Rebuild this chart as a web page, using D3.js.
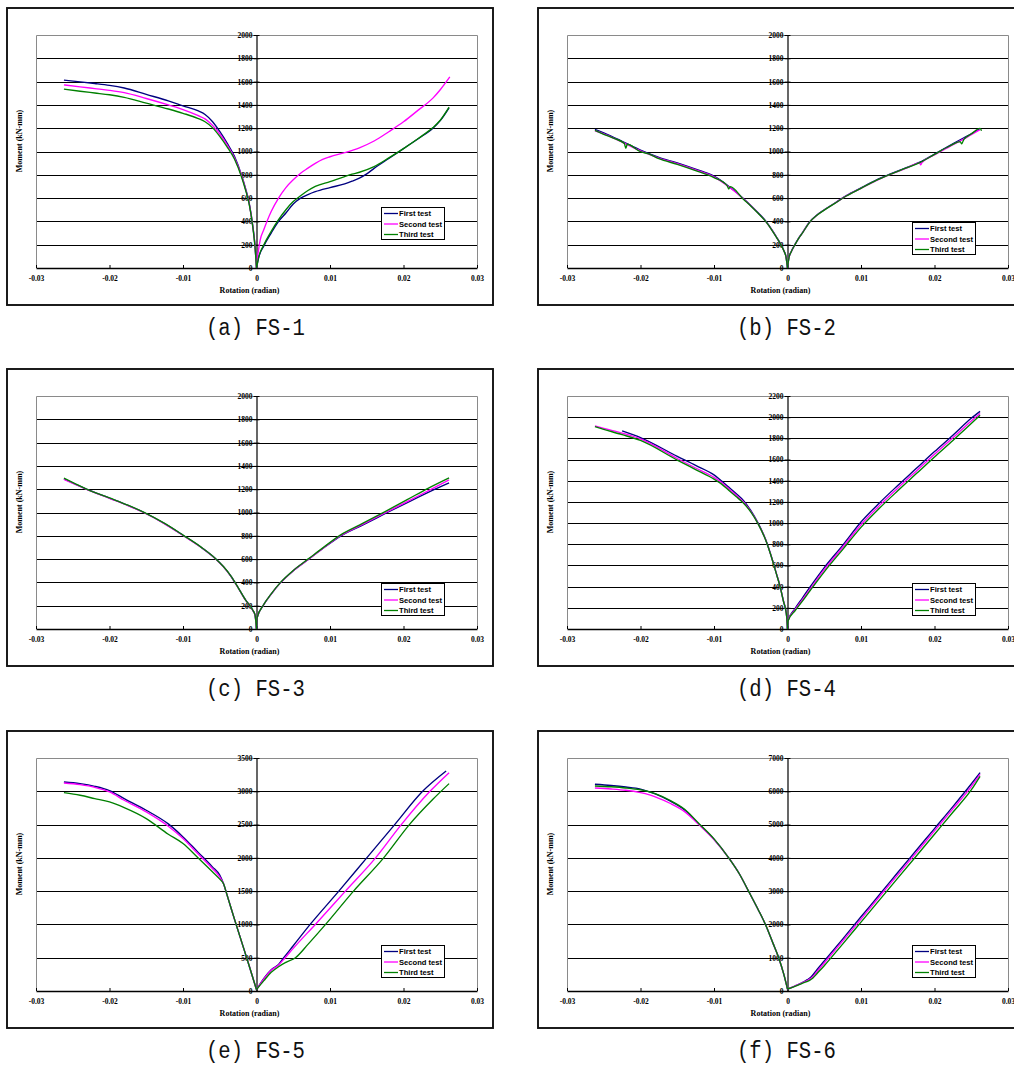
<!DOCTYPE html>
<html>
<head>
<meta charset="utf-8">
<script src="https://cdn.jsdelivr.net/npm/d3@7"></script>
<style>
  html, body { margin: 0; padding: 0; background: #fff; }
  svg { display: block; }
  .tick text { font-family: "Liberation Serif", "Times New Roman", serif; font-weight: bold; font-size: 7.5px; fill: #000; }
</style>
</head>
<body>
<svg id="chart" width="1014" height="1073"></svg>
<script>
// Moment–rotation curves of six connection specimens, three tests each.
// Values are [rotation (radian), moment (kN-mm)].

const seriesNames = ["First test", "Second test", "Third test"];
const seriesColors = ["#000080", "#ff00ff", "#008000"];

const xTickValues = [-0.03, -0.02, -0.01, 0, 0.01, 0.02, 0.03];
const xTickLabels = ["-0.03", "-0.02", "-0.01", "0", "0.01", "0.02", "0.03"];

const yTicks2000 = [0, 200, 400, 600, 800, 1000, 1200, 1400, 1600, 1800, 2000];
const yTicks2200 = [0, 200, 400, 600, 800, 1000, 1200, 1400, 1600, 1800, 2000, 2200];
const yTicks3500 = [0, 500, 1000, 1500, 2000, 2500, 3000, 3500];
const yTicks7000 = [0, 1000, 2000, 3000, 4000, 5000, 6000, 7000];

const captions = ["(a) FS-1", "(b) FS-2", "(c) FS-3", "(d) FS-4", "(e) FS-5", "(f) FS-6"];

// FS-1
const fs1First = [[-0.0262,1612],[-0.024,1598],[-0.022,1584],[-0.02,1568],[-0.018,1545],[-0.015,1490],[-0.012,1435],[-0.01,1392],[-0.008,1350],[-0.007,1318],[-0.006,1258],[-0.005,1172],[-0.004,1072],[-0.003,958],[-0.002,790],[-0.0015,685],[-0.001,560],[-0.0005,360],[-0.0002,190],[0,0],[0.0003,90],[0.001,190],[0.002,300],[0.003,400],[0.004,472],[0.005,550],[0.006,600],[0.007,630],[0.008,655],[0.01,690],[0.012,722],[0.013,745],[0.014,772],[0.015,808],[0.016,855],[0.018,940],[0.02,1025],[0.022,1110],[0.024,1200],[0.025,1265],[0.0262,1375]];
const fs1Second = [[-0.0262,1572],[-0.024,1555],[-0.022,1540],[-0.02,1525],[-0.018,1505],[-0.015,1455],[-0.012,1400],[-0.01,1360],[-0.008,1310],[-0.007,1280],[-0.006,1225],[-0.005,1150],[-0.004,1058],[-0.003,945],[-0.002,785],[-0.0015,680],[-0.001,555],[-0.0005,355],[-0.0002,185],[0,0],[0.0002,120],[0.0005,240],[0.001,330],[0.002,485],[0.003,600],[0.004,690],[0.005,757],[0.006,814],[0.007,857],[0.008,898],[0.009,932],[0.01,955],[0.012,990],[0.014,1032],[0.016,1090],[0.018,1170],[0.02,1255],[0.022,1355],[0.024,1458],[0.025,1530],[0.0263,1640]];
const fs1Third = [[-0.0262,1535],[-0.024,1517],[-0.022,1502],[-0.02,1487],[-0.018,1465],[-0.015,1415],[-0.012,1365],[-0.01,1328],[-0.008,1285],[-0.007,1255],[-0.006,1205],[-0.005,1130],[-0.004,1040],[-0.003,935],[-0.002,775],[-0.0015,672],[-0.001,550],[-0.0005,350],[-0.0002,180],[0,0],[0.0003,95],[0.001,200],[0.002,315],[0.003,415],[0.004,500],[0.005,570],[0.006,620],[0.007,665],[0.008,700],[0.01,742],[0.012,785],[0.013,805],[0.014,822],[0.016,870],[0.018,945],[0.02,1025],[0.022,1112],[0.024,1205],[0.025,1268],[0.0262,1380]];

// FS-2
const fs2First = [[-0.0262,1190],[-0.025,1160],[-0.0225,1088],[-0.02,1012],[-0.0175,950],[-0.015,902],[-0.0125,848],[-0.01,788],[-0.008,702],[-0.006,597],[-0.005,537],[-0.004,474],[-0.003,406],[-0.002,316],[-0.0015,266],[-0.001,213],[-0.0005,150],[-0.0002,95],[0,0],[0.0002,90],[0.0005,140],[0.001,200],[0.0015,255],[0.002,300],[0.003,395],[0.004,455],[0.005,500],[0.0065,560],[0.008,622],[0.01,688],[0.012,752],[0.014,807],[0.016,857],[0.018,908],[0.02,978],[0.022,1048],[0.024,1118],[0.025,1152],[0.0262,1195]];
const fs2Second = [[-0.0262,1178],[-0.025,1152],[-0.0225,1080],[-0.02,1005],[-0.0175,944],[-0.015,896],[-0.0125,842],[-0.01,782],[-0.008,697],[-0.006,594],[-0.005,534],[-0.004,471],[-0.003,403],[-0.002,314],[-0.0015,264],[-0.001,212],[-0.0005,149],[-0.0002,94],[0,0],[0.0002,88],[0.0005,138],[0.001,198],[0.0015,253],[0.002,298],[0.003,393],[0.004,453],[0.005,498],[0.0065,558],[0.008,619],[0.01,684],[0.012,748],[0.014,803],[0.016,852],[0.018,902],[0.0181,885],[0.0183,905],[0.02,970],[0.022,1040],[0.024,1108],[0.025,1145],[0.0262,1188]];
const fs2Third = [[-0.0262,1182],[-0.025,1148],[-0.0235,1110],[-0.0222,1068],[-0.022,1028],[-0.0218,1062],[-0.02,998],[-0.019,982],[-0.0175,938],[-0.015,890],[-0.0125,836],[-0.01,776],[-0.0082,705],[-0.008,678],[-0.0078,698],[-0.006,590],[-0.005,532],[-0.004,470],[-0.003,402],[-0.002,313],[-0.0015,263],[-0.001,211],[-0.0005,148],[-0.0002,93],[0,0],[0.0002,88],[0.0005,138],[0.001,198],[0.0015,252],[0.002,297],[0.003,392],[0.004,452],[0.005,497],[0.0065,557],[0.008,618],[0.01,684],[0.012,750],[0.014,805],[0.016,855],[0.018,905],[0.02,975],[0.022,1045],[0.0235,1085],[0.0237,1066],[0.024,1105],[0.025,1150],[0.0262,1198],[0.0264,1178]];

// FS-3
const fs3First = [[-0.0262,1288],[-0.0245,1240],[-0.0232,1202],[-0.02,1124],[-0.0175,1062],[-0.0153,1000],[-0.0125,905],[-0.01,805],[-0.0075,700],[-0.0056,605],[-0.0045,535],[-0.0035,455],[-0.0025,355],[-0.0015,250],[-0.0009,200],[-0.0005,160],[-0.0002,120],[0,0],[0.0001,100],[0.0009,200],[0.002,300],[0.0033,400],[0.005,500],[0.0071,600],[0.0092,700],[0.0115,800],[0.0147,900],[0.0178,1000],[0.021,1100],[0.0243,1200],[0.0262,1255]];
const fs3Second = [[-0.0262,1285],[-0.0245,1238],[-0.0232,1200],[-0.02,1122],[-0.0175,1060],[-0.0153,998],[-0.0125,903],[-0.01,803],[-0.0075,699],[-0.0056,604],[-0.0045,534],[-0.0035,454],[-0.0025,354],[-0.0015,249],[-0.0009,199],[-0.0005,159],[-0.0002,119],[0,0],[0.0001,100],[0.0009,200],[0.002,300],[0.0033,400],[0.005,500],[0.0071,600],[0.0092,700],[0.0114,800],[0.0145,900],[0.0176,1000],[0.0207,1100],[0.0238,1200],[0.0262,1280]];
const fs3Third = [[-0.0262,1295],[-0.0245,1242],[-0.0232,1203],[-0.02,1125],[-0.0175,1063],[-0.0153,1001],[-0.0125,906],[-0.01,806],[-0.0075,701],[-0.0056,606],[-0.0045,536],[-0.0035,456],[-0.0025,356],[-0.0015,251],[-0.0009,201],[-0.0005,161],[-0.0002,121],[0,0],[0.0001,100],[0.0009,202],[0.002,302],[0.0033,402],[0.005,503],[0.0071,604],[0.0092,705],[0.0114,806],[0.0145,908],[0.0175,1008],[0.0205,1110],[0.0234,1210],[0.0262,1298]];

// FS-4
const fs4First = [[-0.0225,1871],[-0.02,1808],[-0.015,1630],[-0.0125,1545],[-0.01,1455],[-0.009,1400],[-0.008,1340],[-0.007,1280],[-0.006,1215],[-0.005,1120],[-0.004,1000],[-0.003,850],[-0.002,640],[-0.0015,520],[-0.001,400],[-0.0005,250],[-0.0003,200],[-0.0001,110],[0,0],[0.0001,85],[0.001,190],[0.002,290],[0.003,390],[0.005,580],[0.0075,790],[0.01,1010],[0.0125,1190],[0.015,1355],[0.0175,1515],[0.02,1675],[0.0225,1830],[0.025,1990],[0.0262,2055]];
const fs4Second = [[-0.0262,1918],[-0.025,1895],[-0.0225,1850],[-0.02,1795],[-0.015,1610],[-0.0125,1520],[-0.01,1432],[-0.009,1385],[-0.008,1325],[-0.007,1265],[-0.006,1200],[-0.005,1110],[-0.004,995],[-0.003,848],[-0.002,640],[-0.0015,520],[-0.001,400],[-0.0005,250],[-0.0003,200],[-0.0001,110],[0,0],[0.0001,85],[0.001,180],[0.002,275],[0.003,370],[0.005,560],[0.0075,770],[0.01,985],[0.0125,1165],[0.015,1330],[0.0175,1490],[0.02,1650],[0.0225,1805],[0.025,1965],[0.0262,2035]];
const fs4Third = [[-0.0262,1910],[-0.025,1885],[-0.0225,1835],[-0.02,1780],[-0.015,1595],[-0.0125,1505],[-0.01,1415],[-0.009,1370],[-0.008,1310],[-0.007,1250],[-0.006,1190],[-0.005,1105],[-0.004,992],[-0.003,845],[-0.002,638],[-0.0015,518],[-0.001,398],[-0.0005,248],[-0.0003,198],[-0.0001,108],[0,0],[0.0001,80],[0.001,170],[0.002,260],[0.003,355],[0.005,540],[0.0075,750],[0.01,960],[0.0125,1140],[0.015,1305],[0.0175,1465],[0.02,1625],[0.0225,1780],[0.025,1940],[0.0262,2018]];

// FS-5
const fs5First = [[-0.0262,3140],[-0.024,3115],[-0.022,3075],[-0.02,3010],[-0.018,2890],[-0.015,2715],[-0.012,2510],[-0.01,2315],[-0.008,2090],[-0.006,1865],[-0.005,1740],[-0.0045,1615],[-0.004,1440],[-0.003,1080],[-0.002,730],[-0.001,380],[0,20],[0.001,190],[0.002,320],[0.003,400],[0.0037,500],[0.005,680],[0.0073,1000],[0.0112,1500],[0.015,2000],[0.0188,2500],[0.0226,3000],[0.0258,3305]];
const fs5Second = [[-0.0262,3125],[-0.024,3100],[-0.022,3060],[-0.02,2990],[-0.018,2865],[-0.015,2690],[-0.012,2475],[-0.01,2290],[-0.008,2065],[-0.006,1840],[-0.005,1715],[-0.0045,1615],[-0.004,1440],[-0.003,1080],[-0.002,730],[-0.001,380],[0,20],[0.001,180],[0.002,310],[0.003,390],[0.0039,500],[0.005,640],[0.008,1000],[0.0121,1500],[0.0162,2000],[0.0197,2500],[0.0236,3000],[0.0262,3280]];
const fs5Third = [[-0.0262,2980],[-0.024,2940],[-0.022,2890],[-0.02,2840],[-0.018,2755],[-0.015,2590],[-0.012,2355],[-0.01,2215],[-0.008,2005],[-0.006,1790],[-0.005,1680],[-0.0045,1615],[-0.004,1440],[-0.003,1080],[-0.002,730],[-0.001,380],[0,20],[0.001,155],[0.002,280],[0.003,365],[0.004,430],[0.0053,500],[0.007,700],[0.0094,1000],[0.0132,1500],[0.0173,2000],[0.0208,2500],[0.024,2880],[0.0262,3115]];

// FS-6
const fs6First = [[-0.0262,6210],[-0.024,6175],[-0.022,6130],[-0.02,6065],[-0.019,6000],[-0.018,5920],[-0.016,5710],[-0.014,5440],[-0.012,5000],[-0.01,4560],[-0.008,4000],[-0.0065,3500],[-0.0053,3000],[-0.004,2450],[-0.003,2000],[-0.002,1450],[-0.0012,1000],[-0.0005,500],[0,60],[0.001,150],[0.002,250],[0.0027,340],[0.0032,420],[0.004,640],[0.005,900],[0.0075,1560],[0.01,2230],[0.0125,2890],[0.015,3560],[0.0175,4220],[0.02,4880],[0.0225,5540],[0.025,6220],[0.0262,6560]];
const fs6Second = [[-0.0262,6100],[-0.024,6070],[-0.022,6030],[-0.02,5960],[-0.019,5910],[-0.018,5830],[-0.016,5640],[-0.014,5390],[-0.012,4990],[-0.01,4550],[-0.008,4000],[-0.0065,3500],[-0.0053,3000],[-0.004,2450],[-0.003,2000],[-0.002,1450],[-0.0012,1000],[-0.0005,500],[0,60],[0.001,150],[0.002,245],[0.0028,330],[0.0034,420],[0.004,580],[0.005,840],[0.0075,1500],[0.01,2160],[0.0125,2830],[0.015,3490],[0.0175,4150],[0.02,4810],[0.0225,5470],[0.025,6140],[0.0262,6510]];
const fs6Third = [[-0.0262,6160],[-0.024,6135],[-0.022,6100],[-0.02,6045],[-0.019,6000],[-0.018,5930],[-0.016,5730],[-0.014,5460],[-0.012,5020],[-0.01,4570],[-0.008,4000],[-0.0065,3500],[-0.0053,3000],[-0.004,2450],[-0.003,2000],[-0.002,1450],[-0.0012,1000],[-0.0005,500],[0,60],[0.001,140],[0.002,230],[0.003,320],[0.0035,400],[0.004,520],[0.005,760],[0.0075,1410],[0.01,2070],[0.0125,2730],[0.015,3390],[0.0175,4050],[0.02,4710],[0.0225,5370],[0.025,6040],[0.0262,6450]];

const panels = [
  { caption: captions[0], yTicks: yTicks2000, series: [fs1First, fs1Second, fs1Third], legendTop: 207 },
  { caption: captions[1], yTicks: yTicks2000, series: [fs2First, fs2Second, fs2Third], legendTop: 222 },
  { caption: captions[2], yTicks: yTicks2000, series: [fs3First, fs3Second, fs3Third], legendTop: 222 },
  { caption: captions[3], yTicks: yTicks2200, series: [fs4First, fs4Second, fs4Third], legendTop: 222 },
  { caption: captions[4], yTicks: yTicks3500, series: [fs5First, fs5Second, fs5Third], legendTop: 222 },
  { caption: captions[5], yTicks: yTicks7000, series: [fs6First, fs6Second, fs6Third], legendTop: 222 }
];

// Layout of the 2 x 3 grid
const colOffsets = [0, 531];
const rowOffsets = [0, 361, 723];
const frame = { x: 7, y: 8, w: 486, h: 297 };
const plot = { left: 36, right: 477, top: 35, bottom: 268 };

const svg = d3.select("#chart");
svg.append("rect").attr("width", 1014).attr("height", 1073).attr("fill", "#fff");

const serif = "'Liberation Serif', 'Times New Roman', serif";
const sans = "'Liberation Sans', Arial, sans-serif";

panels.forEach((p, i) => {
  const dx = colOffsets[i % 2], dy = rowOffsets[Math.floor(i / 2)];
  const g = svg.append("g").attr("transform", `translate(${dx},${dy})`);

  const yMax = p.yTicks[p.yTicks.length - 1];
  const x = d3.scaleLinear().domain([-0.03, 0.03]).range([plot.left, plot.right]);
  const y = d3.scaleLinear().domain([0, yMax]).range([plot.bottom, plot.top]);
  const x0 = x(0);

  // chart frame
  g.append("rect")
    .attr("x", frame.x).attr("y", frame.y)
    .attr("width", frame.w).attr("height", frame.h)
    .attr("fill", "#fff").attr("stroke", "#111").attr("stroke-width", 1.9);

  // horizontal gridlines
  g.append("g").selectAll("line")
    .data(p.yTicks.filter(v => v > 0 && v < yMax))
    .join("line")
    .attr("x1", plot.left).attr("x2", plot.right)
    .attr("y1", d => Math.round(y(d)) + 0.5).attr("y2", d => Math.round(y(d)) + 0.5)
    .attr("stroke", "#000").attr("stroke-width", 1);

  // plot-area border (left, top, right)
  g.append("path")
    .attr("d", `M${plot.left + 0.5},${plot.bottom}V${plot.top + 0.5}H${plot.right + 0.5}V${plot.bottom}`)
    .attr("fill", "none").attr("stroke", "#8a8a8a").attr("stroke-width", 1);

  // x axis along M = 0
  const xAxis = d3.axisBottom(x)
    .tickValues(xTickValues)
    .tickFormat((d, k) => xTickLabels[k])
    .tickSizeInner(-3).tickSizeOuter(0).tickPadding(8);
  const gx = g.append("g").attr("transform", `translate(0,${plot.bottom})`).call(xAxis);
  gx.select(".domain").attr("stroke", "#000").attr("stroke-width", 1.6);
  gx.selectAll(".tick line").attr("stroke", "#000");

  // y axis at rotation = 0
  const yAxis = d3.axisLeft(y)
    .tickValues(p.yTicks)
    .tickFormat(d3.format("d"))
    .tickSizeInner(3).tickSizeOuter(0).tickPadding(1);
  const gy = g.append("g").attr("transform", `translate(${x0},0)`).call(yAxis);
  gy.select(".domain").attr("stroke", "#000").attr("stroke-width", 1.2);
  gy.selectAll(".tick line").attr("x1", 3).attr("stroke", "#000");

  // series curves, left and right branches drawn separately
  const line = d3.line().x(d => x(d[0])).y(d => y(d[1])).curve(d3.curveMonotoneX);
  p.series.forEach((pts, s) => {
    const branches = [pts.filter(d => d[0] <= 0), pts.filter(d => d[0] >= 0)];
    branches.forEach(b => {
      g.append("path")
        .attr("d", line(b))
        .attr("fill", "none")
        .attr("stroke", seriesColors[s])
        .attr("stroke-width", 1.35)
        .attr("stroke-linejoin", "round");
    });
  });

  // axis titles
  g.append("text")
    .attr("x", x0 - 7).attr("y", 293)
    .attr("text-anchor", "middle")
    .attr("font-family", serif).attr("font-weight", "bold").attr("font-size", 8)
    .text("Rotation (radian)");
  g.append("text")
    .attr("transform", "translate(22,141) rotate(-90)")
    .attr("text-anchor", "middle")
    .attr("font-family", serif).attr("font-weight", "bold").attr("font-size", 8)
    .text("Moment (kN-mm)");

  // legend
  const lg = g.append("g").attr("transform", `translate(381,${p.legendTop})`);
  lg.append("rect").attr("x", 0.5).attr("y", 0.5).attr("width", 63).attr("height", 32)
    .attr("fill", "#fff").attr("stroke", "#000").attr("stroke-width", 1);
  seriesNames.forEach((name, s) => {
    const ly = 6.5 + s * 10.5;
    lg.append("line").attr("x1", 3).attr("x2", 17).attr("y1", ly).attr("y2", ly)
      .attr("stroke", seriesColors[s]).attr("stroke-width", 1.3);
    lg.append("text").attr("x", 18).attr("y", ly + 2.8)
      .attr("font-family", sans).attr("font-weight", "bold").attr("font-size", 7.6)
      .attr("fill", "#000").text(name);
  });

  // caption below the chart
  g.append("text")
    .attr("x", x0 - 1).attr("y", 335)
    .attr("text-anchor", "middle")
    .attr("font-family", "'Liberation Mono', 'DejaVu Sans Mono', monospace")
    .attr("font-size", 23).attr("fill", "#111")
    .attr("textLength", 99).attr("lengthAdjust", "spacingAndGlyphs")
    .text(p.caption);
});
</script>
</body>
</html>
